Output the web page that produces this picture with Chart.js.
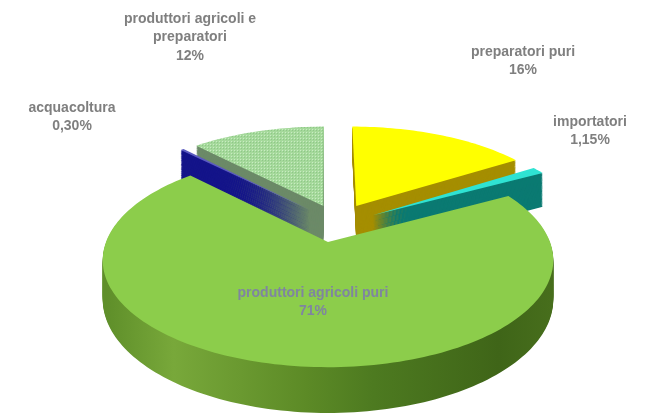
<!DOCTYPE html>
<html>
<head>
<meta charset="utf-8">
<title>Torta 3D</title>
<script src="https://cdn.jsdelivr.net/npm/chart.js@4"></script>
<style>
  html, body { margin: 0; padding: 0; background: #fff; }
  canvas { display: block; }
</style>
</head>
<body>
<canvas id="ch-pie" width="646" height="414"></canvas>
<script>
// dati
const categories = ['preparatori puri', 'importatori', 'produttori agricoli puri', 'acquacoltura', 'produttori agricoli e preparatori'];
const values     = [16, 1.15, 71, 0.30, 12];
const percents   = ['16%', '1,15%', '71%', '0,30%', '12%'];

// colori: faccia superiore e parete laterale
const topColors  = ['#ffff00', '#2fe3d3', '#8ccd4b', '#5c5cc0', '#a9dca0'];
const wallColors = ['#a58e00', '#0b7a72', '#5c8a26', '#14148a', '#6c8a68'];

// vista: prospettiva della torta e stacco delle fette (px sul piano)
const VIEW = { x0: 328, y0: 242, r: 222, squash: 0.468, persp: 0.17, depth: 38 };
const explode = [[30, 82], [47, 60], [0, 0], [-19, 72], [-5, 82]];
const drawOrder = [4, 0, 3, 1, 2];

// etichette: righe e posizione del centro
const labelLines = [['preparatori puri'], ['importatori'], ['produttori agricoli puri'], ['acquacoltura'], ['produttori agricoli e', 'preparatori']];
const labelPos   = [[523, 52], [590, 122], [313, 293], [72, 108], [190, 19]];
const labelColor = ['#7f7f7f', '#7f7f7f', '#7f85a0', '#7f7f7f', '#7f7f7f'];

function project(X, Y, z) {
    const k = 1 / (1 + VIEW.persp * Y / VIEW.r);
    return [VIEW.x0 + X * k, VIEW.y0 - VIEW.squash * Y * k + z * k];
}

function tracePolygon(ctx, arc, off, z) {
    const steps = Math.max(6, Math.ceil((arc.endAngle - arc.startAngle) * 40));
    ctx.beginPath();
    ctx.moveTo(...project(off[0], off[1], z));
    for (let i = 0; i <= steps; i++) {
        const a = arc.startAngle + (arc.endAngle - arc.startAngle) * i / steps;
        ctx.lineTo(...project(off[0] + VIEW.r * Math.cos(a), off[1] - VIEW.r * Math.sin(a), z));
    }
    ctx.closePath();
}

// ── Parete verde con sfumatura orizzontale ───────────────────────────────
function greenWall(ctx) {
    const g = ctx.createLinearGradient(107, 0, 552, 0);
    g.addColorStop(0,    '#5f8f2a');
    g.addColorStop(0.15, '#78a83a');
    g.addColorStop(0.45, '#5c8a26');
    g.addColorStop(0.6,  '#4d7a20');
    g.addColorStop(0.88, '#3f6518');
    g.addColorStop(1,    '#476e1c');
    return g;
}

// ── Trama a puntini della fetta chiara ───────────────────────────────────
function dotPattern(ctx) {
    const c = document.createElement('canvas');
    c.width = 3; c.height = 3;
    const p = c.getContext('2d');
    p.fillStyle = '#a5d99b';
    p.fillRect(0, 0, 3, 3);
    p.fillStyle = '#c8ecc2';
    p.fillRect(0, 0, 1, 1);
    p.fillStyle = '#8fc788';
    p.fillRect(1, 1, 1, 1);
    return ctx.createPattern(c, 'repeat');
}

const pie3d = {
    id: 'pie3d',
    beforeDatasetsDraw(chart) {
        const ctx = chart.ctx;
        const arcs = chart.getDatasetMeta(0).data;
        const tops = chart.data.datasets[0].backgroundColor;
        drawOrder.forEach(i => {
            const arc = arcs[i], off = explode[i];
            ctx.fillStyle = i === 2 ? greenWall(ctx) : wallColors[i];
            for (let z = VIEW.depth; z > 0; z--) {
                tracePolygon(ctx, arc, off, z);
                ctx.fill();
            }
            ctx.fillStyle = i === 4 ? dotPattern(ctx) : tops[i];
            tracePolygon(ctx, arc, off, 0);
            ctx.fill();
        });
        return false; // le fette sono gia disegnate
    },
    afterDraw(chart) {
        const ctx = chart.ctx;
        ctx.save();
        ctx.font = 'bold 14px "Liberation Sans", Arial, sans-serif';
        ctx.textAlign = 'center';
        ctx.textBaseline = 'middle';
        labelLines.forEach((lines, i) => {
            const rows = [...lines, percents[i]];
            ctx.fillStyle = labelColor[i];
            rows.forEach((t, n) => ctx.fillText(t, labelPos[i][0], labelPos[i][1] + n * 18.5));
        });
        ctx.restore();
    },
};

new Chart(document.getElementById('ch-pie').getContext('2d'), {
    type: 'pie',
    data: {
        labels: categories,
        datasets: [{ data: values, backgroundColor: topColors, borderWidth: 0 }],
    },
    options: {
        responsive: false,
        animation: false,
        plugins: { legend: { display: false }, tooltip: { enabled: false } },
    },
    plugins: [pie3d],
});
</script>
</body>
</html>
